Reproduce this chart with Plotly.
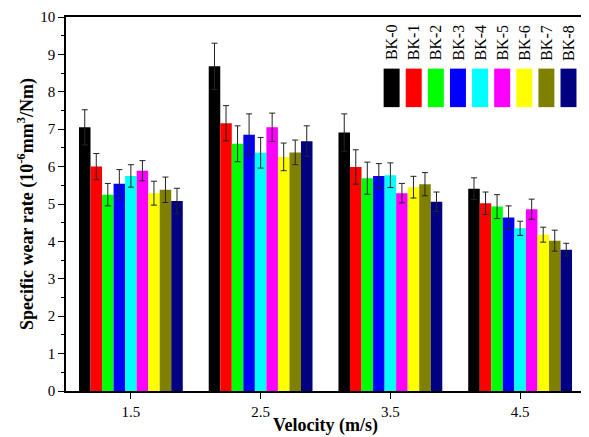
import plotly.graph_objects as go

velocities = [1.5, 2.5, 3.5, 4.5]
tick_labels = ["1.5", "2.5", "3.5", "4.5"]
series_names = ["BK-0", "BK-1", "BK-2", "BK-3", "BK-4", "BK-5", "BK-6", "BK-7", "BK-8"]
colors = ["#000000", "#ff0000", "#00ff00", "#0000ff", "#00ffff", "#ff00ff", "#ffff00", "#808000", "#000080"]

bk0 = [7.05, 8.68, 6.91, 5.41]
bk1 = [6.00, 7.16, 5.99, 5.02]
bk2 = [5.25, 6.61, 5.69, 4.93]
bk3 = [5.54, 6.85, 5.75, 4.64]
bk4 = [5.75, 6.37, 5.77, 4.35]
bk5 = [5.89, 7.05, 5.29, 4.86]
bk6 = [5.29, 6.26, 5.45, 4.18]
bk7 = [5.38, 6.38, 5.53, 4.02]
bk8 = [5.08, 6.68, 5.06, 3.78]

err0 = [0.47, 0.62, 0.50, 0.29]
err1 = [0.35, 0.47, 0.46, 0.30]
err2 = [0.30, 0.48, 0.43, 0.32]
err3 = [0.38, 0.56, 0.33, 0.31]
err4 = [0.30, 0.41, 0.33, 0.19]
err5 = [0.27, 0.38, 0.26, 0.27]
err6 = [0.32, 0.37, 0.29, 0.20]
err7 = [0.34, 0.33, 0.31, 0.28]
err8 = [0.34, 0.41, 0.26, 0.17]

values = [bk0, bk1, bk2, bk3, bk4, bk5, bk6, bk7, bk8]
errors = [err0, err1, err2, err3, err4, err5, err6, err7, err8]

FONT = "Liberation Serif, Times New Roman, serif"

fig = go.Figure()
for name, col, v, e in zip(series_names, colors, values, errors):
    fig.add_trace(go.Bar(
        x=velocities, y=v, name=name,
        marker=dict(color=col, line=dict(width=0)),
        error_y=dict(type="data", array=e, visible=True, color="#222222", thickness=1, width=3),
        showlegend=False,
    ))

# custom legend: rotated labels above colour swatches (paper coordinates)
x0 = 0.612
step = 0.0426
sw = 0.0308
for i, (name, col) in enumerate(zip(series_names, colors)):
    xl = x0 + i * step
    fig.add_shape(type="rect", xref="paper", yref="paper",
                  x0=xl, x1=xl + sw, y0=0.759, y1=0.862,
                  fillcolor=col, line=dict(width=0))
    fig.add_annotation(xref="paper", yref="paper", x=xl + sw / 2, y=0.932,
                       text=name, textangle=-90, showarrow=False,
                       font=dict(family=FONT, size=16, color="black"),
                       xanchor="center", yanchor="middle")

# page body has an 8px default margin: figure is shrunk to compensate
fig.update_layout(
    width=581, height=429,
    margin=dict(l=58, r=4, t=9, b=46, autoexpand=False),
    paper_bgcolor="white", plot_bgcolor="white",
    barmode="group", bargap=0.2, bargroupgap=0,
    font=dict(family=FONT, size=15, color="black"),
)
fig.update_xaxes(
    range=[1, 5], tickvals=velocities, ticktext=tick_labels,
    ticks="outside", ticklen=6, tickwidth=1, tickcolor="black",
    showline=True, linecolor="black", linewidth=1.5, mirror=True,
    showgrid=False, zeroline=False, automargin=False,
    title=dict(text="<b>Velocity (m/s)</b>", font=dict(family=FONT, size=18), standoff=0),
    tickfont=dict(family=FONT, size=15),
)
fig.update_yaxes(
    range=[0, 10], dtick=1, tick0=0,
    ticks="outside", ticklen=6, tickwidth=1, tickcolor="black",
    minor=dict(dtick=0.5, ticks="outside", ticklen=3, tickcolor="black"),
    showline=True, linecolor="black", linewidth=1.5, mirror=True,
    showgrid=False, zeroline=False, automargin=False,
    title=dict(text="<b>Specific wear rate (10<sup>-6</sup>mm<sup>3</sup>/Nm)</b>",
               font=dict(family=FONT, size=18), standoff=2),
    tickfont=dict(family=FONT, size=15),
)

fig.write_html("out.html")
